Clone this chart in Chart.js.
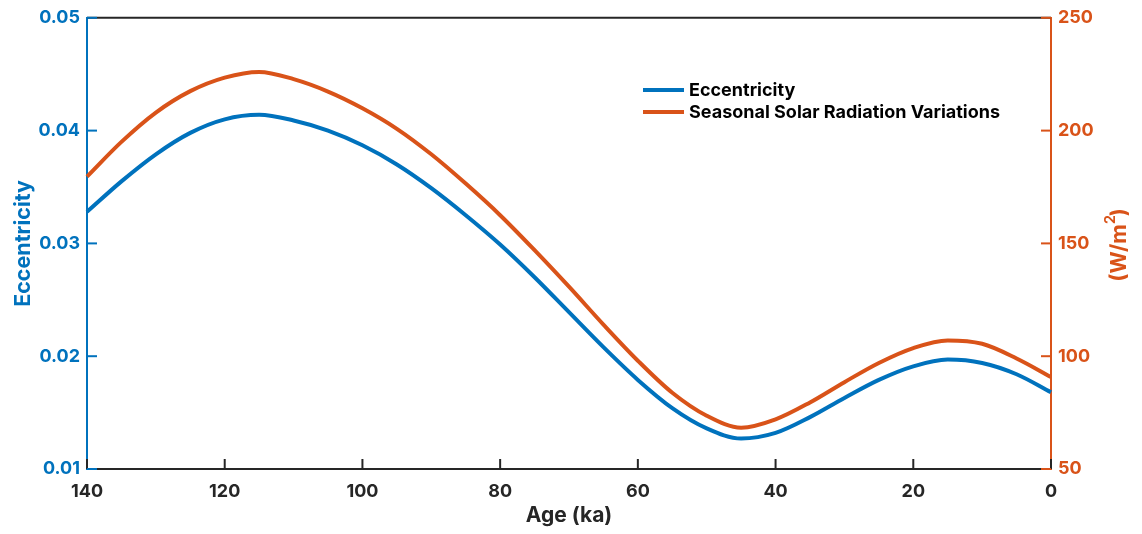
<!DOCTYPE html>
<html><head><meta charset="utf-8">
<script src="https://cdn.jsdelivr.net/npm/chart.js@4"></script>
<style>html,body{margin:0;padding:0;background:#fff;overflow:hidden}#wrap{width:1142px;height:534px;position:relative}</style>
</head><body><div id="wrap"><canvas id="c" width="1142" height="534"></canvas></div>
<script>
const ages = [140,135,130,125,120,115,110,105,100,95,90,85,80,75,70,65,60,55,50,45,40,35,30,25,20,15,10,5,0];
const eccentricity = [0.0328,0.0355,0.0379,0.0398,0.0410,0.0414,0.0409,0.0400,0.0387,0.0370,0.0349,0.0325,0.0299,0.0270,0.0239,0.0208,0.0179,0.0154,0.0136,0.0127,0.0132,0.0146,0.0163,0.0179,0.0191,0.0197,0.0194,0.0184,0.0168];
const radiation = [179.6,195.0,208.0,217.5,223.5,226.0,222.8,217.3,209.9,200.8,189.5,176.5,162.5,147.0,130.8,114.0,98.0,83.8,73.6,68.3,72.0,79.5,88.5,97.0,103.6,107.0,105.5,99.0,90.8];
const xTickValues = [140,120,100,80,60,40,20,0];
const leftTickValues = [0.01,0.02,0.03,0.04,0.05];
const rightTickValues = [50,100,150,200,250];
const seriesNames = ['Eccentricity','Seasonal Solar Radiation Variations'];
const xTitle = 'Age (ka)';
const leftTitle = 'Eccentricity';

const BLUE = '#0072BD', ORANGE = '#D95319', DARK = '#262626';
const FONT = 'Inter, "Liberation Sans", Arial, sans-serif';

const decor = {
  id: 'decor',
  afterDraw(chart) {
    const ctx = chart.ctx, ca = chart.chartArea;
    const sx = chart.scales.x, sy = chart.scales.y, sy1 = chart.scales.y1;
    ctx.save();
    ctx.strokeStyle = DARK; ctx.lineWidth = 2;
    ctx.beginPath(); ctx.moveTo(ca.left, ca.top); ctx.lineTo(ca.right, ca.top); ctx.stroke();
    const L = 10;
    ctx.strokeStyle = DARK;
    sx.ticks.forEach((t, i) => {
      const px = sx.getPixelForTick(i);
      ctx.beginPath(); ctx.moveTo(px, ca.bottom); ctx.lineTo(px, ca.bottom - L); ctx.stroke();
    });
    ctx.strokeStyle = BLUE;
    sy.ticks.forEach((t, i) => {
      const py = sy.getPixelForTick(i);
      ctx.beginPath(); ctx.moveTo(ca.left, py); ctx.lineTo(ca.left + L, py); ctx.stroke();
    });
    ctx.strokeStyle = ORANGE;
    sy1.ticks.forEach((t, i) => {
      const py = sy1.getPixelForTick(i);
      ctx.beginPath(); ctx.moveTo(ca.right, py); ctx.lineTo(ca.right - L, py); ctx.stroke();
    });
    // right axis title, reading bottom to top
    ctx.fillStyle = ORANGE;
    ctx.translate(1120, (ca.top + ca.bottom) / 2 + 1);
    ctx.rotate(-Math.PI / 2);
    ctx.textBaseline = 'middle'; ctx.textAlign = 'left';
    const a = '(W/m', b = '2', c = ')';
    const big = 'bold 21.5px ' + FONT, small = 'bold 14px ' + FONT;
    ctx.font = big; const wa = ctx.measureText(a).width, wc = ctx.measureText(c).width;
    ctx.font = small; const wb = ctx.measureText(b).width;
    const x0 = -(wa + wb + wc) / 2;
    ctx.font = big; ctx.fillText(a, x0, 0);
    ctx.font = small; ctx.fillText(b, x0 + wa, -9);
    ctx.font = big; ctx.fillText(c, x0 + wa + wb - 1, 0);
    ctx.restore();
    // legend
    ctx.save();
    ctx.font = 'bold 18px ' + FONT;
    ctx.textBaseline = 'middle'; ctx.textAlign = 'left';
    chart.data.datasets.forEach((ds, i) => {
      const y = 90 + i * 22;
      ctx.strokeStyle = ds.borderColor; ctx.lineWidth = 4;
      ctx.beginPath(); ctx.moveTo(643, y); ctx.lineTo(684, y); ctx.stroke();
      ctx.fillStyle = '#000';
      ctx.fillText(ds.label, 689, y + 1);
    });
    ctx.restore();
  }
};

new Chart(document.getElementById('c'), {
  type: 'line',
  data: {
    datasets: [
      { label: seriesNames[0], data: ages.map((a, i) => ({x: a, y: eccentricity[i]})), borderColor: BLUE, borderWidth: 4, pointRadius: 0, cubicInterpolationMode: 'monotone', yAxisID: 'y', clip: false },
      { label: seriesNames[1], data: ages.map((a, i) => ({x: a, y: radiation[i]})), borderColor: ORANGE, borderWidth: 4, pointRadius: 0, cubicInterpolationMode: 'monotone', yAxisID: 'y1', clip: false }
    ]
  },
  options: {
    responsive: false, animation: false, devicePixelRatio: 1,
    layout: { padding: { top: 17, left: 0, right: 0, bottom: 0 } },
    plugins: { legend: { display: false }, tooltip: { enabled: false } },
    scales: {
      x: {
        type: 'linear', reverse: true, min: 0, max: 140,
        afterBuildTicks: s => { s.ticks = xTickValues.map(v => ({value: v})); },
        afterFit: s => { s.height = 65; },
        grid: { display: false, drawTicks: false },
        border: { display: true, color: DARK, width: 2 },
        ticks: { color: DARK, font: { family: FONT, size: 18, weight: 'bold' }, padding: 12, maxRotation: 0, autoSkip: false },
        title: { display: true, text: xTitle, color: DARK, font: { family: FONT, size: 21, weight: 'bold' }, padding: { top: 0, bottom: 6 } }
      },
      y: {
        position: 'left', min: 0.01, max: 0.05,
        afterBuildTicks: s => { s.ticks = leftTickValues.map(v => ({value: v})); },
        afterFit: s => { s.width = 87; },
        grid: { display: false, drawTicks: false },
        border: { display: true, color: BLUE, width: 2 },
        ticks: { color: BLUE, font: { family: FONT, size: 18, weight: 'bold' }, padding: 7, callback: v => v.toFixed(2) },
        title: { display: true, text: leftTitle, color: BLUE, font: { family: FONT, size: 21.5, weight: 'bold' }, padding: { top: 11, bottom: 0 } }
      },
      y1: {
        position: 'right', min: 50, max: 250,
        afterBuildTicks: s => { s.ticks = rightTickValues.map(v => ({value: v})); },
        afterFit: s => { s.width = 91; },
        grid: { display: false, drawTicks: false },
        border: { display: true, color: ORANGE, width: 2 },
        ticks: { color: ORANGE, font: { family: FONT, size: 18, weight: 'bold' }, padding: 7 }
      }
    }
  },
  plugins: [decor]
});
</script></body></html>
